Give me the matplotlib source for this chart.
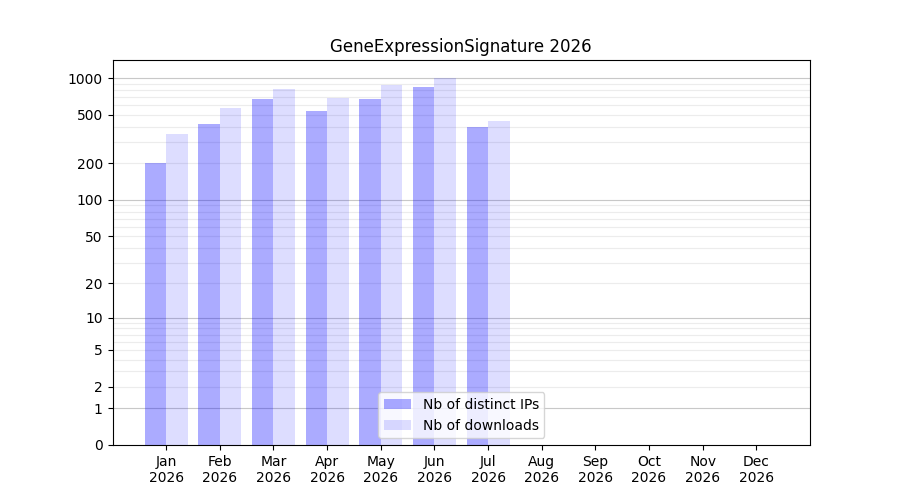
import numpy as np
import matplotlib
matplotlib.use("Agg")
import matplotlib.pyplot as plt

months = ["Jan", "Feb", "Mar", "Apr", "May", "Jun", "Jul", "Aug", "Sep", "Oct", "Nov", "Dec"]
year = "2026"
distinct_ips = [200, 421, 674, 537, 674, 845, 397]
downloads = [348, 568, 814, 687, 882, 1000, 445]
ytick_vals = [0, 1, 2, 5, 10, 20, 50, 100, 200, 500, 1000]

fig, ax = plt.subplots(figsize=(9, 5), dpi=100)
ax.set_yscale("function", functions=(lambda v: np.log10(np.maximum(v, 0) + 1),
                                      lambda t: 10 ** t - 1))

# light grid at 2..9 x decade, darker at decades
minor = [m * d for d in (1, 10, 100) for m in range(2, 10)]
ax.hlines(minor, 0, 13, colors="#ececec", linewidth=0.8, zorder=0)
ax.hlines([1, 10, 100, 1000], 0, 13, colors="#c8c8c8", linewidth=0.8, zorder=0)

x = np.arange(1, len(distinct_ips) + 1)
ax.bar(x, distinct_ips, width=-0.4, align="edge", color="blue", alpha=0.33,
       linewidth=0, label="Nb of distinct IPs", zorder=1)
ax.bar(x, downloads, width=0.4, align="edge", color="blue", alpha=0.135,
       linewidth=0, label="Nb of downloads", zorder=1)

ax.set_xlim(0, 13)
ax.set_ylim(0, 1405)
ax.set_xticks(range(1, 13))
ax.set_xticklabels([m + "\n" + year for m in months])
ax.set_yticks(ytick_vals)
ax.set_yticklabels([str(v) for v in ytick_vals])
ax.minorticks_off()
ax.set_title("GeneExpressionSignature 2026")
ax.legend(loc="lower center")

fig.savefig("out.png")
